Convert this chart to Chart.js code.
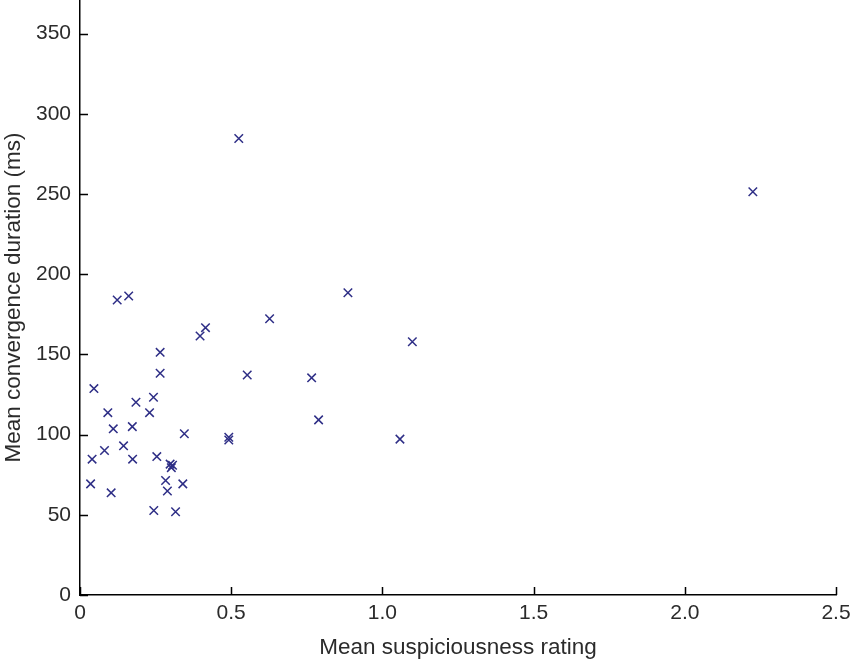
<!DOCTYPE html>
<html>
<head>
<meta charset="utf-8">
<script src="https://cdn.jsdelivr.net/npm/chart.js@4"></script>
<style>
  body { margin: 0; background: #fff; }
  #wrap { width: 850px; height: 661px; }
</style>
</head>
<body>
<div id="wrap"><canvas id="grafico"></canvas></div>
<script>
// ==================== DADOS ====================
const suspicion = [0.525, 2.225, 0.123, 0.161, 0.886, 0.627, 0.415, 0.397, 1.099, 0.265,
                   0.265, 0.553, 0.766, 0.046, 0.243, 0.185, 0.092, 0.230, 0.789, 0.110,
                   0.173, 0.345, 0.492, 0.492, 1.058, 0.144, 0.081, 0.254, 0.040, 0.174,
                   0.298, 0.306, 0.302, 0.283, 0.289, 0.340, 0.035, 0.103, 0.244, 0.316];
const duration   = [284.6, 251.4, 183.9, 186.4, 188.5, 172.3, 166.7, 161.5, 157.9, 151.3,
                    138.3, 137.2, 135.4, 128.7, 123.3, 120.2, 113.7, 113.7, 109.2, 103.6,
                    105.0, 100.5, 98.4, 96.7, 97.2, 93.0, 90.1, 86.3, 84.7, 84.7,
                    81.6, 80.9, 79.4, 71.4, 64.8, 69.3, 69.3, 63.7, 52.7, 51.9];

const xTicks = [0, 0.5, 1.0, 1.5, 2.0, 2.5];
const xTickLabels = ["0", "0.5", "1.0", "1.5", "2.0", "2.5"];
const yTicks = [0, 50, 100, 150, 200, 250, 300, 350];

const corTexto = "#2b2b2b";
const fonteTicks = { family: "'Liberation Sans', Arial, sans-serif", size: 21 };
const fonteTitulo = { family: "'Liberation Sans', Arial, sans-serif", size: 22.5 };

// ticks para dentro da área do gráfico, como no original
const ticksInternos = {
    id: "ticksInternos",
    afterDraw(chart) {
        const { ctx, scales: { x, y } } = chart;
        ctx.save();
        ctx.strokeStyle = "#000";
        ctx.lineWidth = 1.5;
        ctx.beginPath();
        xTicks.forEach(v => {
            const px = Math.round(x.getPixelForValue(v)) + 0.5;
            ctx.moveTo(px, y.bottom);
            ctx.lineTo(px, y.bottom - 8);
        });
        yTicks.forEach(v => {
            const py = Math.round(y.getPixelForValue(v)) + 0.5;
            ctx.moveTo(x.left, py);
            ctx.lineTo(x.left + 8, py);
        });
        ctx.stroke();
        ctx.restore();
    }
};

function semPadding(s) {
    s.paddingTop = 0; s.paddingBottom = 0; s.paddingLeft = 0; s.paddingRight = 0;
}

new Chart(document.getElementById("grafico"), {
    type: "scatter",
    data: {
        datasets: [{
            data: suspicion.map((s, i) => ({ x: s, y: duration[i] })),
            pointStyle: "crossRot",
            pointRadius: 6,
            pointHoverRadius: 6,
            borderColor: "#2e2e86",
            borderWidth: 1.5,
            backgroundColor: "#2e2e86"
        }]
    },
    options: {
        responsive: true,
        maintainAspectRatio: false,
        animation: false,
        layout: { autoPadding: false, padding: { top: 0, right: 14, left: 0, bottom: 0 } },
        plugins: { legend: { display: false }, tooltip: { enabled: false } },
        scales: {
            x: {
                type: "linear",
                min: 0,
                max: 2.5,
                afterBuildTicks: s => { s.ticks = xTicks.map(v => ({ value: v })); },
                afterFit: s => { s.height = 66; semPadding(s); },
                grid: { display: false, drawTicks: false },
                border: { display: true, color: "#000", width: 1.5 },
                ticks: {
                    color: corTexto,
                    font: fonteTicks,
                    padding: 6,
                    maxRotation: 0,
                    callback: (v, i) => xTickLabels[i]
                },
                title: {
                    display: true,
                    text: "Mean suspiciousness rating",
                    color: corTexto,
                    font: fonteTitulo,
                    padding: { top: 2, bottom: 0 }
                }
            },
            y: {
                type: "linear",
                min: 0,
                max: 371,
                afterBuildTicks: s => { s.ticks = yTicks.map(v => ({ value: v })); },
                afterFit: s => { s.width = 80; semPadding(s); },
                grid: { display: false, drawTicks: false },
                border: { display: true, color: "#000", width: 1.5 },
                ticks: { color: corTexto, font: fonteTicks, padding: 9 },
                title: {
                    display: true,
                    text: "Mean convergence duration (ms)",
                    color: corTexto,
                    font: fonteTitulo,
                    padding: { top: 0, bottom: 2 }
                }
            }
        }
    },
    plugins: [ticksInternos]
});
</script>
</body>
</html>
